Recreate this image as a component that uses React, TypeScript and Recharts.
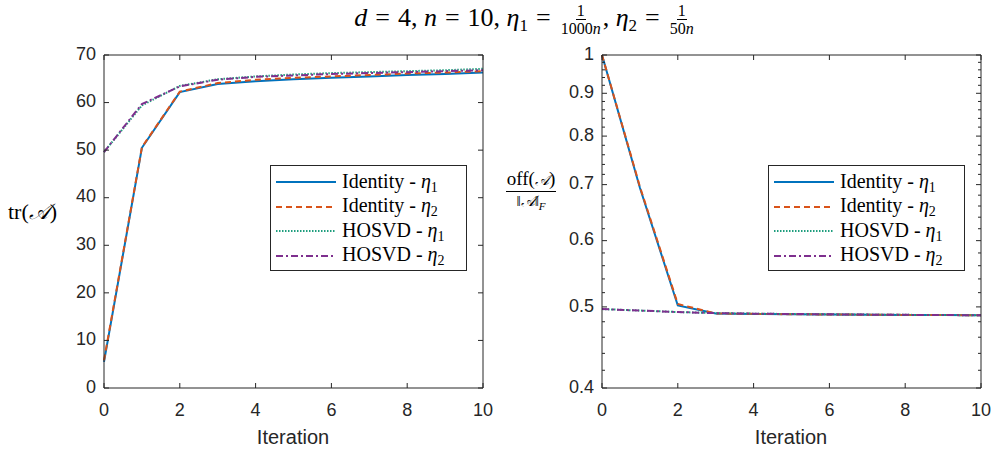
import { Line, LineChart, XAxis, YAxis } from 'recharts';

const iterations = [0, 1, 2, 3, 4, 5, 6, 7, 8, 9, 10];

const trIdentityEta1 = [5.5, 50.5, 62.2, 63.9, 64.5, 64.9, 65.2, 65.5, 65.8, 66.0, 66.3];
const trIdentityEta2 = [5.8, 50.6, 62.3, 64.1, 64.8, 65.2, 65.5, 65.8, 66.1, 66.3, 66.6];
const trHosvdEta1 = [49.6, 59.4, 63.5, 64.9, 65.5, 65.9, 66.2, 66.4, 66.6, 66.8, 67.1];
const trHosvdEta2 = [49.6, 59.7, 63.4, 64.8, 65.4, 65.7, 66.0, 66.2, 66.4, 66.6, 66.8];

const offIdentityEta1 = [1.0, 0.694, 0.502, 0.491, 0.4905, 0.49, 0.4897, 0.4894, 0.4891, 0.4889, 0.4887];
const offIdentityEta2 = [1.0, 0.696, 0.504, 0.491, 0.4905, 0.49, 0.4897, 0.4894, 0.4891, 0.4889, 0.4887];
const offHosvdEta1 = [0.497, 0.495, 0.493, 0.4915, 0.4908, 0.4903, 0.4899, 0.4895, 0.4892, 0.4889, 0.4887];
const offHosvdEta2 = [0.497, 0.495, 0.493, 0.4915, 0.4908, 0.4903, 0.4899, 0.4895, 0.4892, 0.4889, 0.4887];

const xTicks = [0, 2, 4, 6, 8, 10];
const trTicks = [0, 10, 20, 30, 40, 50, 60, 70];
const offTicks = [
  0.4, 0.42, 0.44, 0.46, 0.48, 0.5, 0.52, 0.54, 0.56, 0.58, 0.6, 0.62, 0.64, 0.66, 0.68, 0.7,
  0.72, 0.74, 0.76, 0.78, 0.8, 0.82, 0.84, 0.86, 0.88, 0.9, 0.92, 0.94, 0.96, 0.98, 1,
];

const series = [
  { key: 'idEta1', method: 'Identity', sub: '1', color: '#0072BD', dash: undefined },
  { key: 'idEta2', method: 'Identity', sub: '2', color: '#D95319', dash: '6 4' },
  { key: 'hoEta1', method: 'HOSVD', sub: '1', color: '#1f9e7e', dash: '1.5 1.5' },
  { key: 'hoEta2', method: 'HOSVD', sub: '2', color: '#7E2F8E', dash: '7 3 2 3' },
];

const trData = iterations.map((it, i) => ({
  it,
  idEta1: trIdentityEta1[i],
  idEta2: trIdentityEta2[i],
  hoEta1: trHosvdEta1[i],
  hoEta2: trHosvdEta2[i],
}));

const offData = iterations.map((it, i) => ({
  it,
  idEta1: offIdentityEta1[i],
  idEta2: offIdentityEta2[i],
  hoEta1: offHosvdEta1[i],
  hoEta2: offHosvdEta2[i],
}));

const AXIS = '#262626';
const TICK_FONT = '"Liberation Sans", Arial, sans-serif';
const SERIF = '"Liberation Serif", "DejaVu Serif", serif';

const isMajor = (v: number) => Math.abs(v * 10 - Math.round(v * 10)) < 1e-6;

function BottomTick({ x, y, payload }: any) {
  return (
    <g>
      <line x1={x} y1={y} x2={x} y2={y - 5} stroke={AXIS} />
      <text x={x} y={y + 23} textAnchor="middle" dominantBaseline="middle" fontSize={18} fill={AXIS} fontFamily={TICK_FONT}>
        {payload.value}
      </text>
    </g>
  );
}

function TopTick({ x, y }: any) {
  return <line x1={x} y1={y} x2={x} y2={y + 5} stroke={AXIS} />;
}

function LeftTick({ x, y, payload }: any) {
  const major = isMajor(payload.value);
  return (
    <g>
      <line x1={x} y1={y} x2={x + (major ? 5 : 3)} y2={y} stroke={AXIS} />
      {major && (
        <text x={x - 8} y={y} textAnchor="end" dominantBaseline="middle" fontSize={18} fill={AXIS} fontFamily={TICK_FONT}>
          {payload.value}
        </text>
      )}
    </g>
  );
}

function RightTick({ x, y, payload }: any) {
  const major = isMajor(payload.value);
  return <line x1={x} y1={y} x2={x - (major ? 5 : 3)} y2={y} stroke={AXIS} />;
}

function LegendBox({ left }: { left: number }) {
  return (
    <div
      style={{
        position: 'absolute',
        left,
        top: 165,
        width: 197,
        height: 106,
        boxSizing: 'border-box',
        border: `1px solid ${AXIS}`,
        background: '#fff',
        padding: '4px 0 0 4px',
        fontFamily: SERIF,
        fontSize: 20,
        color: '#000',
      }}
    >
      {series.map((s) => (
        <div key={s.key} style={{ display: 'flex', alignItems: 'center', whiteSpace: 'nowrap', height: 24.5 }}>
          <svg width={62} height={10} style={{ marginRight: 5 }}>
            <line x1={1} y1={5} x2={61} y2={5} stroke={s.color} strokeWidth={2} strokeDasharray={s.dash} />
          </svg>
          <span style={{ lineHeight: '20px' }}>
            {s.method} - <i>η</i>
            <span style={{ fontSize: 14, position: 'relative', top: 4 }}>{s.sub}</span>
          </span>
        </div>
      ))}
    </div>
  );
}

function Frac({ num, den }: { num: any; den: any }) {
  return (
    <span style={{ display: 'inline-flex', flexDirection: 'column', alignItems: 'center', verticalAlign: 'middle', margin: '0 2px' }}>
      <span style={{ fontSize: 16, lineHeight: '16px', borderBottom: '1px solid #000', padding: '0 1px' }}>{num}</span>
      <span style={{ fontSize: 16, lineHeight: '18px' }}>{den}</span>
    </span>
  );
}

function Eq() {
  return <span style={{ margin: '0 8px' }}>=</span>;
}

type PanelProps = {
  data: any[];
  left: number;
  width: number;
  marginLeft: number;
  marginRight: number;
  yDomain: [number, number];
  yTicks: number[];
  log?: boolean;
};

function Panel({ data, left, width, marginLeft, marginRight, yDomain, yTicks, log }: PanelProps) {
  return (
    <div style={{ position: 'absolute', left, top: 0 }}>
      <LineChart width={width} height={453} data={data} margin={{ top: 54, right: marginRight, bottom: 35, left: marginLeft }}>
        <XAxis
          dataKey="it"
          type="number"
          domain={[0, 10]}
          ticks={xTicks}
          interval={0}
          tickSize={0}
          tickMargin={0}
          height={30}
          stroke={AXIS}
          tick={<BottomTick />}
        />
        <XAxis
          xAxisId="top"
          orientation="top"
          dataKey="it"
          type="number"
          domain={[0, 10]}
          ticks={xTicks}
          interval={0}
          tickSize={0}
          tickMargin={0}
          height={1}
          stroke={AXIS}
          tick={<TopTick />}
        />
        <YAxis
          type="number"
          scale={log ? 'log' : 'linear'}
          domain={yDomain}
          ticks={yTicks}
          interval={0}
          tickSize={0}
          tickMargin={0}
          width={1}
          allowDataOverflow
          stroke={AXIS}
          tick={<LeftTick />}
        />
        <YAxis
          yAxisId="right"
          orientation="right"
          type="number"
          scale={log ? 'log' : 'linear'}
          domain={yDomain}
          ticks={yTicks}
          interval={0}
          tickSize={0}
          tickMargin={0}
          width={1}
          allowDataOverflow
          stroke={AXIS}
          tick={<RightTick />}
        />
        {series.map((s) => (
          <Line
            key={s.key}
            dataKey={s.key}
            type="linear"
            stroke={s.color}
            strokeWidth={2}
            strokeDasharray={s.dash}
            dot={false}
            activeDot={false}
            isAnimationActive={false}
          />
        ))}
      </LineChart>
    </div>
  );
}

export default function App() {
  return (
    <div style={{ position: 'absolute', left: 0, top: 0, width: 995, height: 453, background: '#fff', fontFamily: SERIF }}>
      <Panel data={trData} left={0} width={500} marginLeft={103} marginRight={16} yDomain={[0, 70]} yTicks={trTicks} />
      <Panel data={offData} left={497} width={498} marginLeft={104} marginRight={13} yDomain={[0.4, 1]} yTicks={offTicks} log />

      <LegendBox left={270} />
      <LegendBox left={768} />

      <div style={{ position: 'absolute', left: 0, width: 1050, top: 3, textAlign: 'center', fontSize: 26, whiteSpace: 'nowrap' }}>
        <i>d</i>
        <Eq />4, <i>n</i>
        <Eq />10, <i>η</i>
        <span style={{ fontSize: 17, position: 'relative', top: 5 }}>1</span>
        <Eq />
        <Frac num="1" den={<>1000<i>n</i></>} />, <i>η</i>
        <span style={{ fontSize: 17, position: 'relative', top: 5 }}>2</span>
        <Eq />
        <Frac num="1" den={<>50<i>n</i></>} />
      </div>

      <div style={{ position: 'absolute', left: 8, top: 199, fontSize: 22, whiteSpace: 'nowrap' }}>
        tr(<span style={{ fontStyle: 'italic' }}>𝒜</span>)
      </div>

      <div style={{ position: 'absolute', left: 499, top: 168, width: 64, display: 'flex', flexDirection: 'column', alignItems: 'center', fontSize: 19 }}>
        <span style={{ borderBottom: '1px solid #000', padding: '0 1px', lineHeight: '21px' }}>
          off(<i style={{ fontSize: 15 }}>𝒜</i>)
        </span>
        <span style={{ fontSize: 15, lineHeight: '19px' }}>
          ‖<i>𝒜</i>‖<sub style={{ fontSize: 11 }}><i>F</i></sub>
        </span>
      </div>

      {[293, 791].map((cx) => (
        <div
          key={cx}
          style={{ position: 'absolute', left: cx - 60, width: 120, top: 426, textAlign: 'center', fontSize: 20, fontFamily: TICK_FONT, color: AXIS }}
        >
          Iteration
        </div>
      ))}
    </div>
  );
}
